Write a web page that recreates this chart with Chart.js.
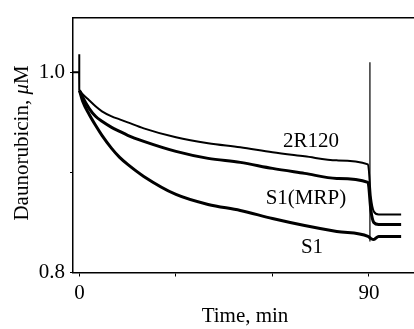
<!DOCTYPE html>
<html>
<head>
<meta charset="utf-8">
<script src="https://cdn.jsdelivr.net/npm/chart.js@4.4.0/dist/chart.umd.min.js"></script>
<style>
  body { margin: 0; background: #fff; }
  canvas { display: block; }
</style>
</head>
<body>
<canvas id="grafico" width="414" height="329"></canvas>
<script>
// tiempo (min) y concentracion de daunorubicina (uM)
const times = [0, 1, 3, 5, 7, 10, 12.5, 15, 20, 30, 40, 50, 60, 70, 80, 89.7, 90.6, 91.5, 93, 96, 100];
const r120  = [0.982, 0.978, 0.972, 0.966, 0.961, 0.956, 0.953, 0.950, 0.944, 0.935, 0.929, 0.925, 0.920, 0.916, 0.912, 0.908, 0.875, 0.861, 0.858, 0.858, 0.858];
const mrp   = [0.982, 0.975, 0.964, 0.956, 0.951, 0.945, 0.941, 0.937, 0.931, 0.921, 0.914, 0.910, 0.904, 0.899, 0.894, 0.890, 0.862, 0.850, 0.848, 0.848, 0.848];
const s1    = [0.982, 0.971, 0.958, 0.947, 0.937, 0.924, 0.915, 0.908, 0.896, 0.878, 0.868, 0.862, 0.854, 0.847, 0.841, 0.836, 0.834, 0.833, 0.836, 0.836, 0.836];

// trazo inicial (antes de t=0) y artefacto de inyeccion en t=90
const startT = [-2, -0.1, -0.1, 0];
const startV = [1.0, 1.0, 1.018, 0.982];
const spikeT = [90.3, 90.3];
const spikeV = [1.010, 0.831];

const yTicks = [0.8, 0.9, 1.0];
const yLabels = ['0.8', '', '1.0'];
const xTicks = [0, 30, 60, 90];
const xLabels = ['0', '', '', '90'];

// etiquetas de las curvas [texto, t, valor]
const curveNames = [
  ['2R120', 72, 0.9305],
  ['S1(MRP)', 70.4, 0.874],
  ['S1', 72.3, 0.825]
];

const pts = (xs, ys) => xs.map((t, i) => ({x: t, y: ys[i]}));
const serif = 'Liberation Serif';

const textos = {
  id: 'textos',
  afterDraw(chart) {
    const ctx = chart.ctx;
    const sx = chart.scales.x, sy = chart.scales.y;
    ctx.save();
    ctx.fillStyle = '#000';
    ctx.textAlign = 'center';
    ctx.textBaseline = 'middle';
    ctx.font = '21px "' + serif + '"';
    curveNames.forEach(c => {
      ctx.fillText(c[0], sx.getPixelForValue(c[1]), sy.getPixelForValue(c[2]));
    });
    // titulo eje x
    ctx.fillText('Time, min', 245, 316);
    // titulo eje y con mu en cursiva
    ctx.translate(22, 143);
    ctx.rotate(-Math.PI / 2);
    const a = 'Daunorubicin, ', b = '\u03bc', c = 'M';
    ctx.font = '21px "' + serif + '"';
    const wa = ctx.measureText(a).width, wc = ctx.measureText(c).width;
    ctx.font = 'italic 21px "' + serif + '"';
    const wb = ctx.measureText(b).width;
    let x0 = -(wa + wb + wc) / 2;
    ctx.textAlign = 'left';
    ctx.font = '21px "' + serif + '"';
    ctx.fillText(a, x0, 0);
    ctx.font = 'italic 21px "' + serif + '"';
    ctx.fillText(b, x0 + wa, 0);
    ctx.font = '21px "' + serif + '"';
    ctx.fillText(c, x0 + wa + wb, 0);
    ctx.restore();
  }
};

const linea = (data, w) => ({
  data: data,
  borderColor: '#000',
  borderWidth: w,
  pointRadius: 0,
  fill: false,
  cubicInterpolationMode: 'monotone'
});

new Chart(document.getElementById('grafico').getContext('2d'), {
  type: 'line',
  data: {
    datasets: [
      linea(pts(times, r120), 2),
      linea(pts(times, mrp), 3),
      linea(pts(times, s1), 3),
      Object.assign(linea(pts(startT, startV), 2), {cubicInterpolationMode: 'default', tension: 0}),
      Object.assign(linea(pts(spikeT, spikeV), 1.2), {cubicInterpolationMode: 'default', tension: 0})
    ]
  },
  options: {
    responsive: false,
    animation: false,
    layout: { padding: { top: 2, right: 0, left: 0, bottom: 0 } },
    plugins: { legend: { display: false }, tooltip: { enabled: false } },
    scales: {
      x: {
        type: 'linear',
        min: -2,
        max: 104,
        afterFit: s => { s.height = 56.5; },
        afterBuildTicks: s => { s.ticks = xTicks.map(v => ({value: v})); },
        ticks: {
          color: '#000',
          font: { family: serif, size: 21 },
          padding: 4,
          maxRotation: 0,
          callback: (v) => xLabels[xTicks.indexOf(v)]
        },
        grid: { drawOnChartArea: false, color: '#000', tickLength: 4, lineWidth: 1 },
        border: { color: '#000', width: 1.5 }
      },
      x2: {
        type: 'linear',
        position: 'top',
        min: -2,
        max: 104,
        ticks: { display: false },
        grid: { drawOnChartArea: false, drawTicks: false },
        border: { color: '#000', width: 1.5 }
      },
      y: {
        min: 0.8,
        max: 1.0546,
        afterFit: s => { s.width = 73; },
        afterBuildTicks: s => { s.ticks = yTicks.map(v => ({value: v})); },
        ticks: {
          color: '#000',
          font: { family: serif, size: 21 },
          padding: 5,
          callback: (v) => yLabels[yTicks.indexOf(v)]
        },
        grid: { drawOnChartArea: false, color: '#000', tickLength: 3, lineWidth: 1 },
        border: { color: '#000', width: 1.5 }
      }
    }
  },
  plugins: [textos]
});
</script>
</body>
</html>
